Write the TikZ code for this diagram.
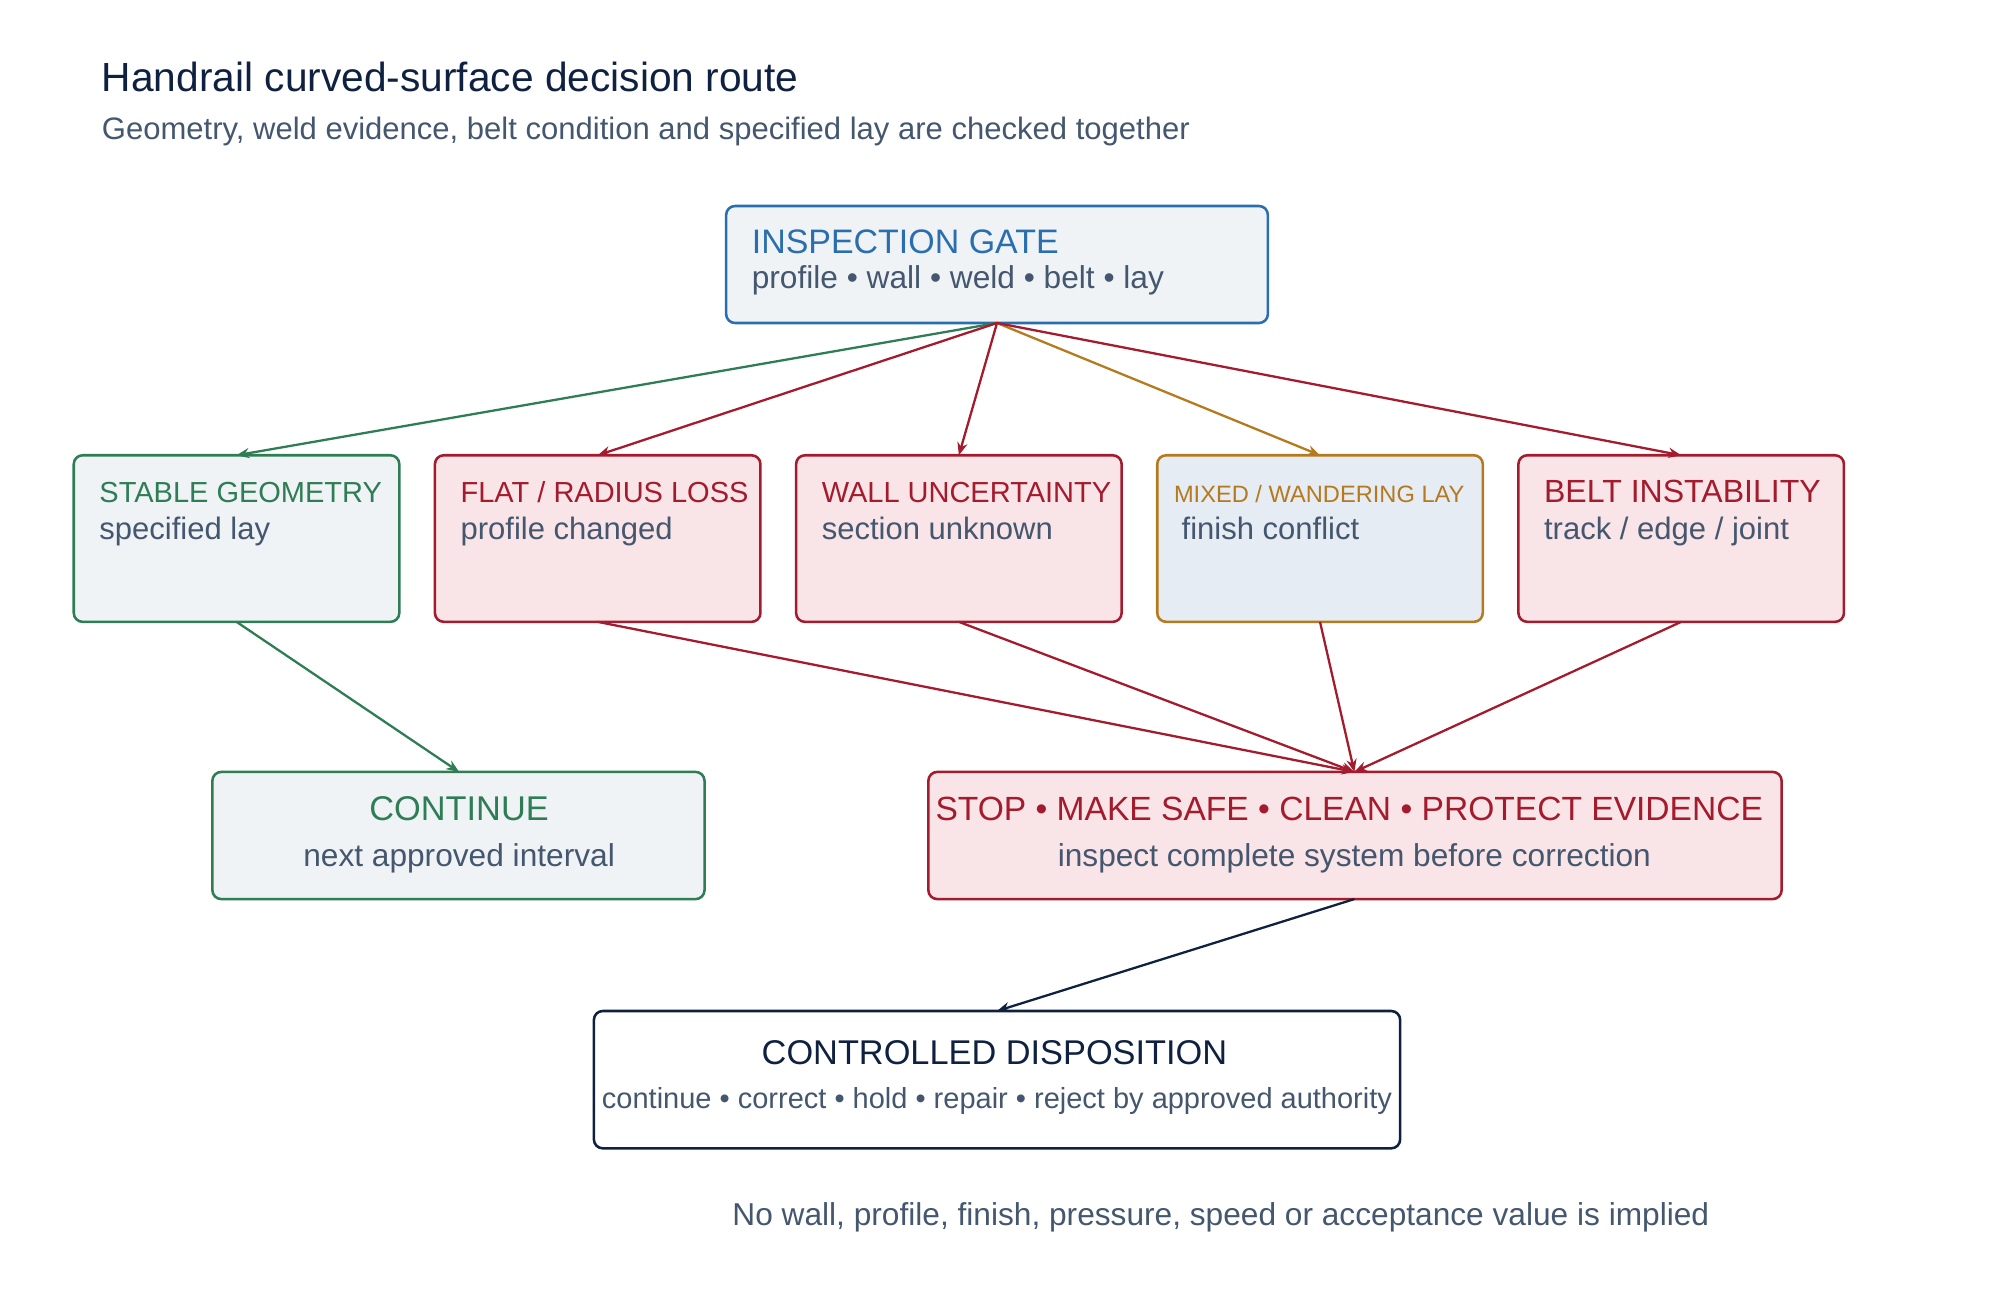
\documentclass[tikz,border=0pt]{standalone}
\usepackage{fontspec}
\setmainfont{Liberation Sans}
\usetikzlibrary{arrows.meta}
\definecolor{cg}{HTML}{2E7D55}
\definecolor{cr}{HTML}{A31B2C}
\definecolor{cb}{HTML}{2A6EAD}
\definecolor{co}{HTML}{B5791E}
\definecolor{cn}{HTML}{0F2140}
\definecolor{ct}{HTML}{44576F}
\definecolor{fgr}{HTML}{EFF3F6}
\definecolor{fpk}{HTML}{F9E4E7}
\definecolor{fbl}{HTML}{E5ECF3}
\newcommand{\fs}[1]{\fontsize{#1}{#1}\selectfont}
\begin{document}
\begin{tikzpicture}[x=1pt,y=-1pt,
 box/.style={draw,line width=2pt,rounded corners=7pt},
 hd/.style={anchor=base west,inner sep=0,font=\fs{22.8}},
 sb/.style={anchor=base west,inner sep=0,text=ct,font=\fs{24.4}},
 cb1/.style={anchor=base,inner sep=0},
 ar/.style={line width=1.8pt,-{Stealth[length=10pt,width=8pt]}}]
\useasboundingbox (0,0) rectangle (1568,1022);
\node[anchor=base west,inner sep=0,text=cn,font=\fs{32}] (title) at (80,72) {Handrail curved-surface decision route};
\node[anchor=base west,inner sep=0,text=ct,font=\fs{24.4}] (sub) at (80,110) {Geometry, weld evidence, belt condition and specified lay are checked together};
% gate
\draw[box,cb,fill=fgr] (571,162) rectangle (997,254);
\coordinate (gate) at (784,254);
\node[hd,text=cb,font=\fs{26.7}] (g1) at (591,199) {INSPECTION GATE};
\node[sb,font=\fs{24.9}] (g2) at (591,227) {profile • wall • weld • belt • lay};
% row
\draw[box,cg,fill=fgr] (58,358) rectangle (314,489);
\draw[box,cr,fill=fpk] (342,358) rectangle (598,489);
\draw[box,cr,fill=fpk] (626,358) rectangle (882,489);
\draw[box,co,fill=fbl] (910,358) rectangle (1166,489);
\draw[box,cr,fill=fpk] (1194,358) rectangle (1450,489);
\foreach \n/\x in {a/186,b/470,c/754,d/1038,e/1322}{
 \coordinate (\n t) at (\x,358); \coordinate (\n b) at (\x,489);}
\node[hd,text=cg] (a1) at (78,395) {STABLE GEOMETRY};
\node[sb] (a2) at (78,424) {specified lay};
\node[hd,text=cr] (b1) at (362,395) {FLAT / RADIUS LOSS};
\node[sb] (b2) at (362,424) {profile changed};
\node[hd,text=cr] (c1) at (646,395) {WALL UNCERTAINTY};
\node[sb] (c2) at (646,424) {section unknown};
\node[hd,text=co,font=\fs{18.6}] (d1) at (923,395) {MIXED / WANDERING LAY};
\node[sb] (d2) at (929,424) {finish conflict};
\node[hd,text=cr,font=\fs{25.2}] (e1) at (1214,395) {BELT INSTABILITY};
\node[sb] (e2) at (1214,424) {track / edge / joint};
% continue
\draw[box,cg,fill=fgr] (167,607) rectangle (554,707);
\coordinate (kt) at (361,607);
\node[cb1,text=cg,font=\fs{27}] (k1) at (361,645) {CONTINUE};
\node[cb1,text=ct,font=\fs{24.9}] (k2) at (361,681) {next approved interval};
% stop
\draw[box,cr,fill=fpk] (730,607) rectangle (1401,707);
\coordinate (st) at (1065,607); \coordinate (sbt) at (1065,707);
\node[cb1,text=cr,font=\fs{26.4}] (s1) at (1061,645) {STOP • MAKE SAFE • CLEAN • PROTECT EVIDENCE};
\node[cb1,text=ct,font=\fs{24.9}] (s2) at (1065,681) {inspect complete system before correction};
% controlled
\draw[box,cn,fill=white] (467,795) rectangle (1101,903);
\coordinate (xt) at (784,795);
\node[cb1,text=cn,font=\fs{27}] (x1) at (782,837) {CONTROLLED DISPOSITION};
\node[cb1,text=ct,font=\fs{22.8}] (x2) at (784,872) {continue • correct • hold • repair • reject by approved authority};
\node[cb1,text=ct,font=\fs{24.9}] (note) at (960,964) {No wall, profile, finish, pressure, speed or acceptance value is implied};
% arrows
\draw[ar,cg] (gate) -- (at);
\draw[ar,cr] (gate) -- (bt);
\draw[ar,cr] (gate) -- (ct);
\draw[ar,co] (gate) -- (dt);
\draw[ar,cr] (gate) -- (et);
\draw[ar,cg] (ab) -- (kt);
\draw[ar,cr] (bb) -- (st);
\draw[ar,cr] (cb) -- (st);
\draw[ar,cr] (db) -- (st);
\draw[ar,cr] (eb) -- (st);
\draw[ar,cn] (sbt) -- (xt);
\end{tikzpicture}
\end{document}
